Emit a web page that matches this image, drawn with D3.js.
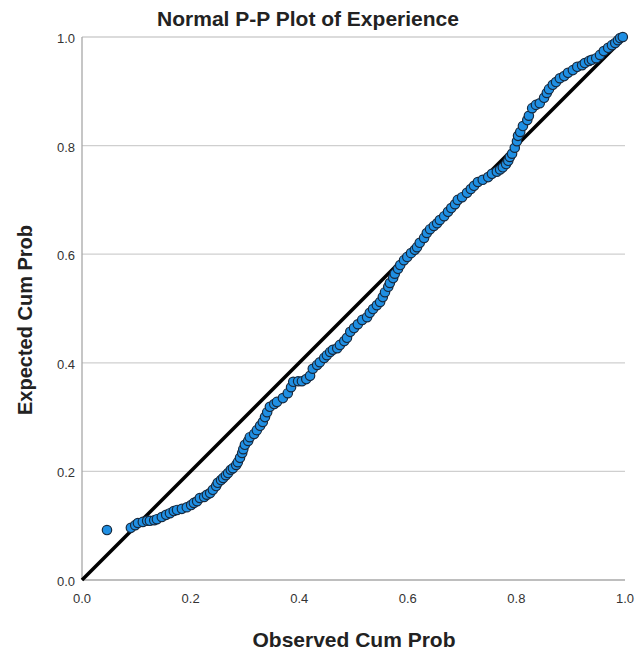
<!DOCTYPE html>
<html>
<head>
<meta charset="utf-8">
<script src="https://cdn.jsdelivr.net/npm/d3@7"></script>
<style>
  body { margin: 0; background: #fff; }
  text { font-family: "Liberation Sans", Arial, sans-serif; }
</style>
</head>
<body>
<svg id="chart" width="638" height="654"></svg>
<script>
// Observed / expected cumulative probabilities
var observed = [
  0.046, 0.090, 0.098, 0.103, 0.112, 0.120, 0.125, 0.133, 0.138, 0.147,
  0.155, 0.162, 0.169, 0.175, 0.184, 0.193, 0.201, 0.206, 0.212, 0.217,
  0.225, 0.230, 0.236, 0.241, 0.247, 0.250, 0.256, 0.260, 0.265, 0.269,
  0.274, 0.278, 0.284, 0.287, 0.291, 0.295, 0.297, 0.300, 0.306, 0.309,
  0.317, 0.322, 0.328, 0.333, 0.337, 0.341, 0.346, 0.354, 0.359, 0.370,
  0.379, 0.385, 0.389, 0.398, 0.405, 0.413, 0.420, 0.425, 0.433, 0.438,
  0.446, 0.451, 0.457, 0.462, 0.470, 0.475, 0.483, 0.488, 0.494, 0.501,
  0.508, 0.516, 0.525, 0.530, 0.536, 0.543, 0.549, 0.554, 0.558, 0.564,
  0.567, 0.573, 0.576, 0.582, 0.586, 0.593, 0.599, 0.606, 0.613, 0.617,
  0.622, 0.630, 0.635, 0.641, 0.648, 0.654, 0.659, 0.667, 0.674, 0.680,
  0.687, 0.692, 0.700, 0.709, 0.716, 0.722, 0.729, 0.738, 0.748, 0.755,
  0.764, 0.770, 0.775, 0.781, 0.785, 0.788, 0.792, 0.797, 0.801, 0.803,
  0.807, 0.812, 0.820, 0.823, 0.829, 0.836, 0.843, 0.851, 0.856, 0.860,
  0.867, 0.873, 0.880, 0.888, 0.895, 0.904, 0.912, 0.921, 0.926, 0.934,
  0.939, 0.947, 0.954, 0.961, 0.969, 0.976, 0.982, 0.987, 0.991, 0.996];
var expected = [
  0.092, 0.096, 0.101, 0.105, 0.107, 0.109, 0.109, 0.110, 0.112, 0.116,
  0.120, 0.123, 0.127, 0.129, 0.131, 0.134, 0.138, 0.142, 0.145, 0.151,
  0.153, 0.157, 0.160, 0.166, 0.173, 0.179, 0.184, 0.188, 0.193, 0.197,
  0.203, 0.206, 0.212, 0.217, 0.225, 0.234, 0.241, 0.249, 0.256, 0.263,
  0.269, 0.276, 0.284, 0.291, 0.300, 0.309, 0.319, 0.324, 0.328, 0.335,
  0.344, 0.355, 0.365, 0.366, 0.366, 0.370, 0.376, 0.389, 0.396, 0.401,
  0.409, 0.414, 0.420, 0.424, 0.427, 0.433, 0.440, 0.446, 0.457, 0.464,
  0.471, 0.479, 0.484, 0.492, 0.499, 0.506, 0.512, 0.521, 0.530, 0.540,
  0.547, 0.556, 0.564, 0.573, 0.580, 0.589, 0.595, 0.602, 0.608, 0.613,
  0.621, 0.630, 0.639, 0.646, 0.652, 0.657, 0.663, 0.670, 0.678, 0.685,
  0.692, 0.700, 0.705, 0.713, 0.720, 0.726, 0.733, 0.737, 0.742, 0.748,
  0.752, 0.756, 0.760, 0.766, 0.772, 0.779, 0.785, 0.796, 0.808, 0.818,
  0.825, 0.836, 0.847, 0.855, 0.869, 0.875, 0.878, 0.888, 0.897, 0.904,
  0.912, 0.917, 0.924, 0.928, 0.934, 0.939, 0.945, 0.948, 0.952, 0.956,
  0.958, 0.961, 0.967, 0.974, 0.980, 0.985, 0.989, 0.994, 0.998, 1.000];
var tickValues = [0, 0.2, 0.4, 0.6, 0.8, 1.0];
var diagonal = [[0, 0], [1, 1]];

var svg = d3.select("#chart");
var plotLeft = 82, plotRight = 625, plotTop = 37, plotBottom = 580;

var x = d3.scaleLinear().domain([0, 1]).range([plotLeft, plotRight]);
var y = d3.scaleLinear().domain([0, 1]).range([plotBottom, plotTop]);

// horizontal grid lines
svg.append("g")
    .selectAll("line")
    .data(tickValues.slice(1))
    .enter()
    .append("line")
    .attr("x1", plotLeft)
    .attr("x2", plotRight)
    .attr("y1", function (d) { return y(d); })
    .attr("y2", function (d) { return y(d); })
    .style("stroke", "#cfcfcf")
    .style("stroke-width", 1.3);

// axis lines
svg.append("line")
    .attr("x1", plotLeft).attr("x2", plotLeft)
    .attr("y1", plotTop).attr("y2", plotBottom)
    .style("stroke", "#a8a8a8").style("stroke-width", 1.3);
svg.append("line")
    .attr("x1", plotLeft).attr("x2", plotRight)
    .attr("y1", plotBottom).attr("y2", plotBottom)
    .style("stroke", "#a8a8a8").style("stroke-width", 1.3);

// tick labels
var fmt = d3.format(".1f");
svg.append("g")
    .selectAll("text")
    .data(tickValues)
    .enter()
    .append("text")
    .attr("x", plotLeft - 7)
    .attr("y", function (d) { return y(d) + 6; })
    .attr("text-anchor", "end")
    .style("font-size", "13px")
    .style("fill", "#333")
    .text(fmt);

svg.append("g")
    .selectAll("text")
    .data(tickValues)
    .enter()
    .append("text")
    .attr("x", function (d) { return x(d); })
    .attr("y", plotBottom + 23)
    .attr("text-anchor", "middle")
    .style("font-size", "13px")
    .style("fill", "#333")
    .text(fmt);

// reference line
svg.append("path")
    .datum(diagonal)
    .attr("d", d3.line().x(function (d) { return x(d[0]); }).y(function (d) { return y(d[1]); }))
    .style("stroke", "#000")
    .style("stroke-width", 3.5)
    .style("fill", "none");

// points
svg.append("g")
    .selectAll("circle")
    .data(observed)
    .enter()
    .append("circle")
    .attr("cx", function (d) { return x(d); })
    .attr("cy", function (d, i) { return y(expected[i]); })
    .attr("r", 4.7)
    .style("fill", "#1f8fe3")
    .style("stroke", "#172a3f")
    .style("stroke-width", 1.2);

// titles
svg.append("text")
    .attr("x", 308)
    .attr("y", 26)
    .attr("text-anchor", "middle")
    .style("font-size", "21px")
    .style("font-weight", "bold")
    .style("fill", "#222")
    .text("Normal P-P Plot of Experience");

svg.append("text")
    .attr("x", 354)
    .attr("y", 647)
    .attr("text-anchor", "middle")
    .style("font-size", "21px")
    .style("font-weight", "bold")
    .style("fill", "#222")
    .text("Observed Cum Prob");

svg.append("text")
    .attr("transform", "translate(32,320) rotate(-90)")
    .attr("text-anchor", "middle")
    .style("font-size", "20px")
    .style("font-weight", "bold")
    .style("fill", "#222")
    .text("Expected Cum Prob");
</script>
</body>
</html>
